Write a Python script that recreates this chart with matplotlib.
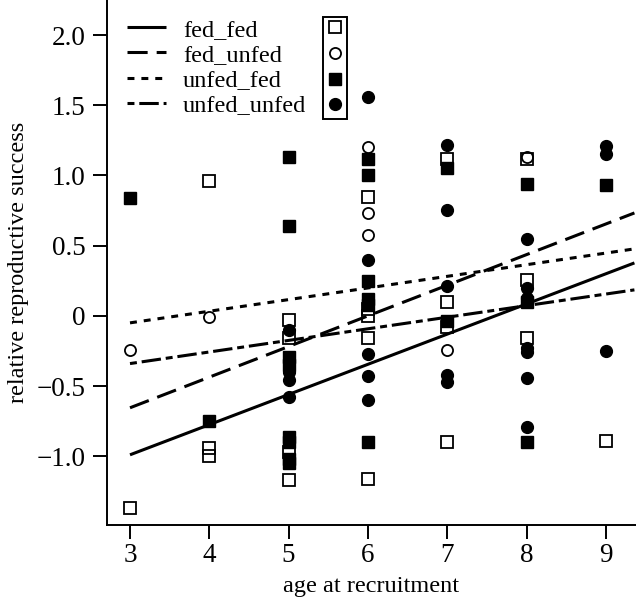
import matplotlib
matplotlib.use('Agg')
import matplotlib.pyplot as plt
from matplotlib.lines import Line2D

plt.rcParams['font.family'] = ['Liberation Serif', 'DejaVu Serif']
plt.rcParams['lines.scale_dashes'] = False

# points, one pair of lists per group
ff_x = [3, 4, 4, 4, 5, 5, 5, 5, 6, 6, 6, 6, 6, 7, 7, 7, 7, 8, 8, 8, 9]
ff_y = [-1.37, 0.96, -0.94, -1.00, -0.03, -0.16, -0.97, -1.17,
        0.85, 0.05, 0.00, -0.155, -1.16, 1.12, 0.10, -0.08, -0.90,
        1.12, 0.255, -0.155, -0.89]

fu_x = [3, 4, 6, 6, 6, 7, 8]
fu_y = [-0.24, -0.01, 1.20, 0.73, 0.575, -0.24, 1.13]

uf_x = [3, 4, 5, 5, 5, 5, 5, 5, 5, 5, 6, 6, 6, 6, 6, 6, 7, 7, 8, 8, 8, 9]
uf_y = [0.84, -0.75, 1.13, 0.64, -0.29, -0.35, -0.86, -0.90, -1.02, -1.05,
        1.12, 1.00, 0.25, 0.12, 0.08, -0.90, 1.05, -0.04, 0.94, 0.10, -0.90, 0.93]

uu_x = [5, 5, 5, 5, 6, 6, 6, 6, 6, 7, 7, 7, 7, 7, 8, 8, 8, 8, 8, 8, 8, 9, 9, 9]
uu_y = [-0.10, -0.40, -0.455, -0.58, 1.56, 0.40, -0.27, -0.43, -0.60,
        1.22, 0.755, 0.21, -0.42, -0.47, 0.55, 0.20, 0.13, -0.23, -0.26,
        -0.44, -0.79, 1.21, 1.15, -0.25]

# fitted lines (start and end values)
line_x = [3, 9.36]
ff_line = [-0.99, 0.377]
fu_line = [-0.655, 0.733]
uf_line = [-0.05, 0.477]
uu_line = [-0.34, 0.185]

groups = ['fed_fed', 'fed_unfed', 'unfed_fed', 'unfed_unfed']

fig = plt.figure(figsize=(6.36, 6.01), dpi=100)
ax = fig.add_axes([107/636, 76/601, 529/636, 525/601])

ms = 8.5
ax.plot(ff_x, ff_y, 's', ms=ms, mfc='none', mec='black', mew=1.3, ls='none')
ax.plot(fu_x, fu_y, 'o', ms=ms - 0.5, mfc='none', mec='black', mew=1.3, ls='none')
ax.plot(uf_x, uf_y, 's', ms=ms, mfc='black', mec='black', ls='none')
ax.plot(uu_x, uu_y, 'o', ms=ms, mfc='black', mec='black', ls='none')

lw = 2.2
l1, = ax.plot(line_x, ff_line, color='black', lw=lw, solid_capstyle='butt')
l2, = ax.plot(line_x, fu_line, color='black', lw=lw, dashes=(14.5, 6.5), dash_capstyle='butt')
l3, = ax.plot(line_x, uf_line, color='black', lw=lw, dashes=(5, 5), dash_capstyle='butt')
l4, = ax.plot(line_x, uu_line, color='black', lw=lw, dashes=(5, 3.5, 14, 3.5), dash_capstyle='butt')

ax.set_xlim(2.71, 9.38)
ax.set_ylim(-1.49, 2.25)
ax.set_xticks([3, 4, 5, 6, 7, 8, 9])
ax.set_yticks([2.0, 1.5, 1.0, 0.5, 0, -0.5, -1.0])
ax.set_yticklabels(['2.0', '1.5', '1.0', '0.5', '0', '\u22120.5', '\u22121.0'])
ax.spines['top'].set_visible(False)
ax.spines['right'].set_visible(False)
for s in ['left', 'bottom']:
    ax.spines[s].set_linewidth(1.4)
ax.tick_params(direction='out', length=10, width=1.4, labelsize=19.5, pad=3)
ax.tick_params(axis='y', pad=5.5)

ax.set_xlabel('age at recruitment', fontsize=17.5, labelpad=6)
ax.set_ylabel('relative reproductive success', fontsize=17.5)
ax.yaxis.set_label_coords(-0.147, 0.5)

leg1 = ax.legend([l1, l2, l3, l4], groups, loc='upper left', bbox_to_anchor=(0.038, 0.964),
                 frameon=False, fontsize=17.5, handlelength=1.6, handletextpad=0.7,
                 labelspacing=0.125, borderpad=0, borderaxespad=0)
ax.add_artist(leg1)

mk = [Line2D([], [], marker='s', ms=ms, mfc='none', mec='black', mew=1.3, ls='none'),
      Line2D([], [], marker='o', ms=ms - 0.5, mfc='none', mec='black', mew=1.3, ls='none'),
      Line2D([], [], marker='s', ms=ms, mfc='black', mec='black', ls='none'),
      Line2D([], [], marker='o', ms=ms, mfc='black', mec='black', ls='none')]
leg2 = ax.legend(mk, ['', '', '', ''], loc='upper left', bbox_to_anchor=(0.408, 0.968),
                 frameon=True, fancybox=False, edgecolor='black', framealpha=1,
                 fontsize=12, handlelength=0.9, handletextpad=0, labelspacing=0.58,
                 borderpad=0.27, borderaxespad=0)
leg2.get_frame().set_linewidth(1.4)

fig.savefig('out.png', dpi=100)
